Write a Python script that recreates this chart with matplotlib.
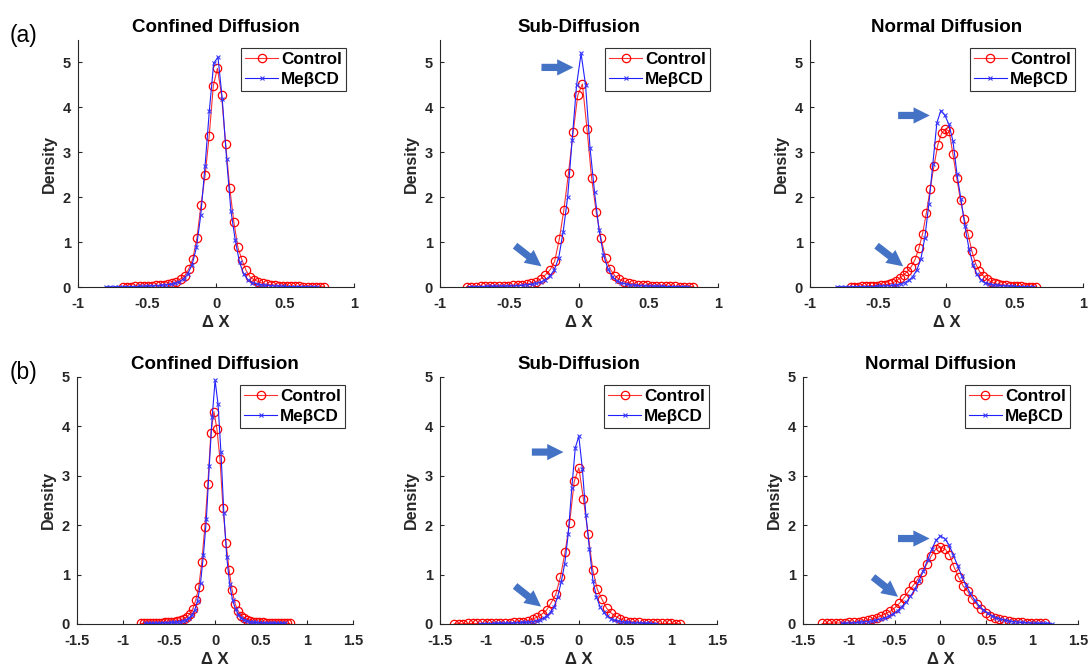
import numpy as np
import matplotlib
matplotlib.use("Agg")
import matplotlib.pyplot as plt

plt.rcParams['font.family'] = ['Liberation Sans', 'DejaVu Sans']

titles = ["Confined Diffusion", "Sub-Diffusion", "Normal Diffusion"]
series_names = ["Control", "MeβCD"]

# histogram bins: (first centre, bin width, number of bins)
a_conf_ctrl_bins = (-0.673, 0.0297, 50)
a_conf_ctrl = [0.01, 0.01, 0.01, 0.015, 0.02, 0.02, 0.025, 0.03, 0.035, 0.04,
               0.05, 0.07, 0.08, 0.12, 0.18, 0.25,
               0.40, 0.63, 1.09, 1.83, 2.49, 3.37, 4.48,
               4.87,
               4.28, 3.19, 2.21, 1.45, 0.88, 0.60, 0.37, 0.22,
               0.16, 0.12, 0.08, 0.06, 0.05, 0.04, 0.03, 0.025, 0.02, 0.02,
               0.015, 0.015, 0.01, 0.01, 0.01, 0.01, 0.005, 0.005]
a_conf_mbcd_bins = (-0.797, 0.0312, 50)
a_conf_mbcd = [0.005, 0.005, 0.005, 0.01, 0.01, 0.01, 0.01, 0.01, 0.015, 0.02,
               0.02, 0.025, 0.03, 0.04, 0.05, 0.06, 0.08, 0.12,
               0.18, 0.30, 0.50, 0.88, 1.60, 2.70, 3.93, 4.98,
               5.12,
               4.18, 2.85, 1.70, 1.05, 0.55, 0.28, 0.16, 0.10,
               0.07, 0.05, 0.04, 0.03, 0.025, 0.02, 0.015, 0.01,
               0.01, 0.01, 0.01, 0.01, 0.005, 0.005, 0.005]

a_sub_ctrl_bins = (-0.808, 0.0333, 50)
a_sub_ctrl = [0.01, 0.01, 0.01, 0.015, 0.015, 0.015, 0.02, 0.02, 0.025, 0.03,
              0.035, 0.04, 0.05, 0.07, 0.09, 0.12, 0.18, 0.27,
              0.38, 0.57, 1.06, 1.72, 2.54, 3.45, 4.27,
              4.52,
              3.51, 2.42, 1.66, 1.09, 0.65, 0.40, 0.25, 0.17,
              0.12, 0.09, 0.07, 0.05, 0.04, 0.035, 0.03, 0.025,
              0.02, 0.02, 0.015, 0.015, 0.01, 0.01, 0.01, 0.01]
a_sub_mbcd_bins = (-0.790, 0.0322, 50)
a_sub_mbcd = [0.01, 0.01, 0.01, 0.01, 0.015, 0.015, 0.015, 0.02, 0.02, 0.02,
              0.025, 0.03, 0.04, 0.05, 0.06, 0.08, 0.11, 0.16,
              0.24, 0.38, 0.65, 1.23, 2.00, 3.27, 4.50,
              5.20,
              4.50, 3.10, 2.12, 1.28, 0.72, 0.40, 0.23, 0.14,
              0.09, 0.07, 0.05, 0.04, 0.03, 0.025, 0.02, 0.02,
              0.015, 0.015, 0.01, 0.01, 0.01, 0.01, 0.01, 0.005]

a_norm_ctrl_bins = (-0.702, 0.02776, 50)
a_norm_ctrl = [0.01, 0.01, 0.01, 0.015, 0.02, 0.02, 0.025, 0.03, 0.04, 0.05,
               0.06, 0.09, 0.13, 0.20, 0.27, 0.35, 0.45, 0.61,
               0.86, 1.19, 1.65, 2.19, 2.70, 3.16, 3.42,
               3.52,
               3.47, 2.96, 2.43, 1.93, 1.52, 1.18, 0.80, 0.52,
               0.35, 0.25, 0.17, 0.12, 0.08, 0.06, 0.05, 0.04,
               0.03, 0.025, 0.02, 0.015, 0.01, 0.01, 0.01, 0.005]
a_norm_mbcd_bins = (-0.805, 0.0294, 50)
a_norm_mbcd = [0.005, 0.005, 0.005, 0.005, 0.01, 0.01, 0.01, 0.01, 0.01, 0.01,
               0.015, 0.02, 0.025, 0.03, 0.04, 0.05, 0.07, 0.10,
               0.15, 0.23, 0.38, 0.62, 1.10, 1.85, 2.75, 3.66,
               3.93,
               3.82, 3.62, 3.25, 2.52, 1.95, 1.35, 0.85, 0.50,
               0.28, 0.16, 0.10, 0.07, 0.05, 0.04, 0.03, 0.025,
               0.02, 0.015, 0.01, 0.01, 0.01, 0.005, 0.005]

b_conf_ctrl_bins = (-0.804, 0.033, 50)
b_conf_ctrl = [0.01, 0.01, 0.01, 0.01, 0.015, 0.02, 0.02, 0.025, 0.03, 0.035,
               0.04, 0.05, 0.06, 0.08, 0.10, 0.14, 0.20, 0.30,
               0.48, 0.75, 1.25, 1.96, 2.84, 3.87,
               4.30,
               3.94, 3.33, 2.34, 1.63, 1.09, 0.68, 0.40, 0.26,
               0.17, 0.12, 0.09, 0.07, 0.05, 0.04, 0.035, 0.03, 0.025,
               0.02, 0.02, 0.015, 0.015, 0.01, 0.01, 0.01, 0.01]
b_conf_mbcd_bins = (-0.760, 0.0317, 49)
b_conf_mbcd = [0.01, 0.01, 0.01, 0.01, 0.015, 0.015, 0.02, 0.02, 0.025, 0.03,
               0.035, 0.04, 0.05, 0.07, 0.09, 0.12, 0.18, 0.28,
               0.47, 0.83, 1.40, 2.12, 3.20, 4.20,
               4.93,
               4.45, 3.48, 2.24, 1.35, 0.80, 0.48, 0.30, 0.19,
               0.13, 0.09, 0.07, 0.05, 0.04, 0.03, 0.025, 0.02,
               0.02, 0.015, 0.015, 0.01, 0.01, 0.01, 0.01, 0.01]

b_sub_ctrl_bins = (-1.346, 0.05, 50)
b_sub_ctrl = [0.005, 0.005, 0.005, 0.01, 0.01, 0.01, 0.01, 0.015, 0.015, 0.02,
              0.02, 0.02, 0.025, 0.03, 0.04, 0.05, 0.07, 0.10,
              0.14, 0.20, 0.28, 0.43, 0.60, 0.95, 1.45, 2.05, 2.89,
              3.16,
              2.52, 1.82, 1.10, 0.70, 0.50, 0.32, 0.22, 0.15,
              0.10, 0.07, 0.05, 0.04, 0.03, 0.025, 0.02, 0.02,
              0.015, 0.01, 0.01, 0.01, 0.005, 0.005]
b_sub_mbcd_bins = (-1.066, 0.0382, 51)
b_sub_mbcd = [0.005, 0.005, 0.005, 0.005, 0.01, 0.01, 0.01, 0.01, 0.015, 0.015,
              0.02, 0.025, 0.03, 0.035, 0.04, 0.05, 0.07, 0.09,
              0.12, 0.17, 0.24, 0.35, 0.55, 0.85, 1.22, 1.83, 2.75, 3.57,
              3.80,
              3.14, 2.21, 1.52, 0.88, 0.55, 0.35, 0.24, 0.16,
              0.11, 0.08, 0.06, 0.05, 0.04, 0.03, 0.025, 0.02,
              0.02, 0.015, 0.01, 0.01, 0.005, 0.005]

b_norm_ctrl_bins = (-1.29, 0.0496, 50)
b_norm_ctrl = [0.01, 0.01, 0.015, 0.02, 0.02, 0.025, 0.03, 0.04, 0.05, 0.06,
               0.08, 0.10, 0.13, 0.17, 0.21, 0.26, 0.33, 0.42,
               0.53, 0.66, 0.78, 0.90, 1.05, 1.21, 1.38, 1.52,
               1.56,
               1.52, 1.40, 1.15, 0.95, 0.77, 0.66, 0.50, 0.40,
               0.30, 0.23, 0.17, 0.13, 0.10, 0.08, 0.06, 0.05,
               0.04, 0.03, 0.025, 0.02, 0.015, 0.01, 0.01]
b_norm_mbcd_bins = (-1.074, 0.0467, 50)
b_norm_mbcd = [0.01, 0.015, 0.02, 0.025, 0.03, 0.04, 0.05, 0.06, 0.08, 0.10,
               0.12, 0.16, 0.21, 0.27, 0.35, 0.44, 0.56, 0.70,
               0.88, 1.07, 1.30, 1.52, 1.70,
               1.78,
               1.73, 1.60, 1.40, 1.18, 0.97, 0.78, 0.62, 0.48,
               0.37, 0.29, 0.22, 0.17, 0.13, 0.10, 0.08, 0.06,
               0.05, 0.04, 0.03, 0.025, 0.02, 0.015, 0.01, 0.01, 0.01, 0.005]

row_a = [(a_conf_ctrl_bins, a_conf_ctrl, a_conf_mbcd_bins, a_conf_mbcd),
         (a_sub_ctrl_bins, a_sub_ctrl, a_sub_mbcd_bins, a_sub_mbcd),
         (a_norm_ctrl_bins, a_norm_ctrl, a_norm_mbcd_bins, a_norm_mbcd)]
row_b = [(b_conf_ctrl_bins, b_conf_ctrl, b_conf_mbcd_bins, b_conf_mbcd),
         (b_sub_ctrl_bins, b_sub_ctrl, b_sub_mbcd_bins, b_sub_mbcd),
         (b_norm_ctrl_bins, b_norm_ctrl, b_norm_mbcd_bins, b_norm_mbcd)]

xticks_a = [-1, -0.5, 0, 0.5, 1]
xticks_b = [-1.5, -1, -0.5, 0, 0.5, 1, 1.5]
yticks_a = [0, 1, 2, 3, 4, 5]
yticks_b = [0, 1, 2, 3, 4, 5]


def centres(bins):
    start, step, n = bins
    return start + step * np.arange(n)


def fmt(v):
    return "%g" % v


fig = plt.figure(figsize=(10.91, 6.67), dpi=100)

pos_a = [[0.0715, 0.5697, 0.253, 0.3703],
         [0.4033, 0.5697, 0.2548, 0.3703],
         [0.7424, 0.5697, 0.2502, 0.3703]]
pos_b = [[0.0706, 0.0645, 0.253, 0.3703],
         [0.4033, 0.0645, 0.2539, 0.3703],
         [0.7360, 0.0645, 0.2520, 0.3703]]

axc = '#262626'
arrow_c = '#4472C4'

# block arrows, data coords (tail, head) per panel; None = no arrows
arrows_a = [None,
            [((-0.27, 4.89), (-0.04, 4.89)), ((-0.46, 0.92), (-0.27, 0.46))],
            [((-0.354, 3.82), (-0.122, 3.82)), ((-0.512, 0.92), (-0.317, 0.46))]]
arrows_b = [None,
            [((-0.505, 3.48), (-0.163, 3.48)), ((-0.687, 0.77), (-0.405, 0.35))],
            [((-0.463, 1.73), (-0.118, 1.73)), ((-0.736, 0.95), (-0.463, 0.55))]]

for row, positions, xlim, ylim, xt, yt, arrows in [
        (row_a, pos_a, (-1, 1), (0, 5.5), xticks_a, yticks_a, arrows_a),
        (row_b, pos_b, (-1.5, 1.5), (0, 5), xticks_b, yticks_b, arrows_b)]:
    for i, (cb, cy, mb, my) in enumerate(row):
        ax = fig.add_axes(positions[i])
        ax.plot(centres(cb), cy, '-', color='#ff3030', lw=0.8, marker='o',
                ms=6, mfc='none', mec='red', mew=0.9, label=series_names[0])
        ax.plot(centres(mb), my, '-', color='#2020ff', lw=0.8, marker='x',
                ms=3.5, mec='#3a3aff', mew=0.8, label=series_names[1])
        ax.set_xlim(*xlim)
        ax.set_ylim(*ylim)
        ax.set_xticks(xt)
        ax.set_xticklabels([fmt(v) for v in xt])
        ax.set_yticks(yt)
        ax.set_yticklabels([fmt(v) for v in yt])
        ax.spines['top'].set_visible(False)
        ax.spines['right'].set_visible(False)
        for s in ('left', 'bottom'):
            ax.spines[s].set_color(axc)
            ax.spines[s].set_linewidth(0.8)
        ax.tick_params(direction='in', length=3, width=0.8, colors=axc,
                       labelsize=10.5)
        ax.tick_params(axis='x', pad=7)
        ax.tick_params(axis='y', pad=5)
        for lab in ax.get_xticklabels() + ax.get_yticklabels():
            lab.set_fontweight('bold')
        ax.set_title(titles[i], fontsize=13.5, fontweight='bold', pad=6)
        ax.set_xlabel('Δ X', fontsize=12, fontweight='bold', color=axc,
                      labelpad=3)
        ax.set_ylabel('Density', fontsize=11.5, fontweight='bold', color=axc,
                      labelpad=4)
        leg = ax.legend(loc='upper right', fontsize=12.3, handlelength=1.9,
                        handletextpad=0.2, borderpad=0.25, labelspacing=0.3,
                        borderaxespad=0.45, fancybox=False, framealpha=1)
        leg.get_frame().set_edgecolor('#333333')
        leg.get_frame().set_linewidth(0.8)
        for t in leg.get_texts():
            t.set_fontweight('bold')
        if arrows[i] is not None:
            for tail, head in arrows[i]:
                ax.annotate('', xy=head, xytext=tail, xycoords='data',
                            arrowprops=dict(arrowstyle='simple,head_length=0.9,head_width=0.9,tail_width=0.4',
                                            color=arrow_c, lw=0, shrinkA=0, shrinkB=0,
                                            mutation_scale=13))

fig.text(0.009, 0.9475, '(a)', fontsize=16.5, va='center', ha='left')
fig.text(0.009, 0.442, '(b)', fontsize=16.5, va='center', ha='left')

fig.savefig('out.png', dpi=100)
